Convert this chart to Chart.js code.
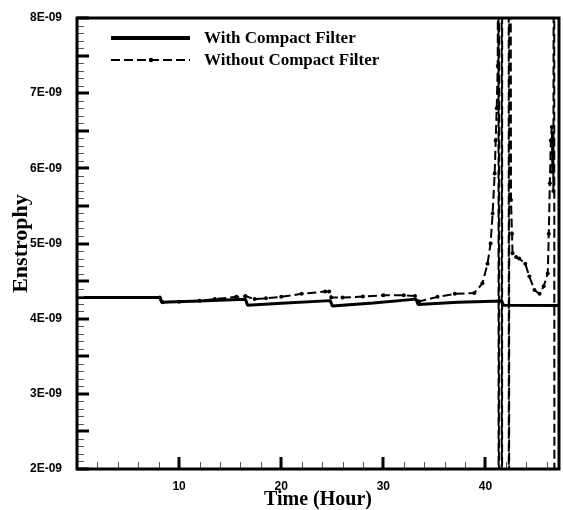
<!DOCTYPE html>
<html><head><meta charset="utf-8">
<script src="https://cdn.jsdelivr.net/npm/chart.js@4"></script>
<style>html,body{margin:0;padding:0;background:#fff}#wrap{width:563px;height:510px;position:relative}</style>
</head><body><div id="wrap"><canvas id="c"></canvas></div>
<script>
// Values in units of 1E-09
const seriesNames = ['With Compact Filter', 'Without Compact Filter'];
const withTime  = [0, 8.1, 8.3, 12, 16.5, 16.7, 20, 24.8, 25.0, 29, 33.2, 33.4, 37.3, 41.6, 41.75, 47.2];
const withValue = [4.283, 4.283, 4.217, 4.235, 4.257, 4.18, 4.205, 4.24, 4.17, 4.21, 4.26, 4.19, 4.22, 4.235, 4.18, 4.175];
const withoutTime  = [0, 8.1, 8.4, 10, 12, 13.5, 15.6, 16.5, 17.4, 18.5, 20, 22, 24.3, 24.7, 24.9, 26, 28, 30, 32, 33.1, 33.5, 35.3, 37, 38.9, 39.7, 40.2, 40.5, 40.7, 40.9, 41.0, 41.1, 41.2,
  41.27, 41.29, 41.31, 41.33, 41.58, 41.60, 41.62, 41.64, 42.27, 42.29, 42.31, 42.33, 42.42,
  42.5, 42.6, 42.65, 43.0, 43.3, 43.9, 44.3, 44.8, 45.3, 45.7, 46.1, 46.2, 46.3, 46.4, 46.5, 46.55, 46.6, 46.65, 46.72, 46.76, 47.2];
const withoutValue = [4.283, 4.283, 4.22, 4.225, 4.24, 4.26, 4.29, 4.30, 4.26, 4.27, 4.29, 4.33, 4.36, 4.36, 4.28, 4.28, 4.295, 4.31, 4.31, 4.30, 4.23, 4.29, 4.33, 4.34, 4.47, 4.73, 5.0, 5.40, 5.93, 6.37, 6.8, 7.36,
  14, -4, -4, 14, 14, -4, -4, 14, 14, -4, -4, 14, 14,
  5.58, 5.13, 4.87, 4.82, 4.80, 4.73, 4.56, 4.38, 4.33, 4.43, 4.60, 5.13, 5.80, 6.37, 6.55, 5.95, 6.35, 5.7, 14, -4, -4];
const xTickValues = [10, 20, 30, 40];
const xTickLabels = ['10', '20', '30', '40'];
const yTickValues = [2, 3, 4, 5, 6, 7, 8];
const yTickLabels = ['2E-09', '3E-09', '4E-09', '5E-09', '6E-09', '7E-09', '8E-09'];
const xTitle = 'Time (Hour)';
const yTitle = 'Enstrophy';

const X_MIN = 0, X_MAX = 47.2, Y_MIN = 2, Y_MAX = 8;
const serif = "'Liberation Serif', 'Times New Roman', serif";
const sans = "'Liberation Sans', Arial, sans-serif";

const framePlugin = {
  id: 'frameTicks',
  afterDatasetsDraw(chart) {
    const ctx = chart.ctx, a = chart.chartArea;
    const xs = chart.scales.x, ys = chart.scales.y;
    ctx.save();
    for (let k = 0; k <= 60; k++) {
      const v = Y_MIN + k * 0.1;
      const py = ys.getPixelForValue(v);
      const major = k % 5 === 0;
      ctx.strokeStyle = major ? '#000' : '#555';
      ctx.lineWidth = major ? 3 : 1;
      ctx.beginPath();
      ctx.moveTo(a.left, Math.round(py) + (major ? 0 : 0.5));
      ctx.lineTo(a.left + (major ? 12 : 7), Math.round(py) + (major ? 0 : 0.5));
      ctx.stroke();
    }
    for (let v = 2; v < X_MAX; v += 2) {
      const px = xs.getPixelForValue(v);
      const major = v % 10 === 0;
      ctx.strokeStyle = major ? '#000' : '#555';
      ctx.lineWidth = major ? 3 : 1;
      ctx.beginPath();
      ctx.moveTo(Math.round(px) + (major ? 0 : 0.5), a.bottom);
      ctx.lineTo(Math.round(px) + (major ? 0 : 0.5), a.bottom - (major ? 12 : 7));
      ctx.stroke();
    }
    ctx.strokeStyle = '#000';
    ctx.lineWidth = 3;
    ctx.strokeRect(a.left, a.top, a.right - a.left, a.bottom - a.top);
    const rows = [38, 60];
    chart.data.datasets.forEach((ds, i) => {
      const y = rows[i];
      ctx.strokeStyle = ds.borderColor;
      ctx.lineWidth = i === 0 ? 4 : ds.borderWidth;
      ctx.setLineDash(ds.borderDash || []);
      ctx.beginPath();
      ctx.moveTo(111, y);
      ctx.lineTo(190, y);
      ctx.stroke();
      ctx.setLineDash([]);
      if (ds.pointRadius > 0) {
        ctx.fillStyle = ds.pointBackgroundColor;
        ctx.beginPath();
        ctx.arc(151, y, 2.2, 0, Math.PI * 2);
        ctx.fill();
      }
      ctx.fillStyle = '#000';
      ctx.font = 'bold 17px ' + serif;
      ctx.textBaseline = 'middle';
      ctx.textAlign = 'left';
      ctx.fillText(ds.label, 204, y + 1);
    });
    ctx.restore();
  }
};

new Chart(document.getElementById('c'), {
  type: 'line',
  data: {
    datasets: [
      {
        label: seriesNames[0],
        data: withTime.map((t, i) => ({ x: t, y: withValue[i] })),
        borderColor: '#000', borderWidth: 3, pointRadius: 0, tension: 0,
        borderJoinStyle: 'bevel', clip: 0
      },
      {
        label: seriesNames[1],
        data: withoutTime.map((t, i) => ({ x: t, y: withoutValue[i] })),
        borderColor: '#000', borderWidth: 2, borderDash: [9, 4],
        pointRadius: 2, pointBackgroundColor: '#000', pointBorderWidth: 0,
        tension: 0, borderJoinStyle: 'bevel', clip: 0
      }
    ]
  },
  options: {
    responsive: true, maintainAspectRatio: false, animation: false,
    layout: { padding: { top: 18, right: 1, left: 0, bottom: 0 } },
    plugins: { legend: { display: false }, tooltip: { enabled: false } },
    scales: {
      x: {
        type: 'linear', min: X_MIN, max: X_MAX,
        afterBuildTicks: s => { s.ticks = xTickValues.map(v => ({ value: v })); },
        ticks: {
          callback: v => xTickLabels[xTickValues.indexOf(v)],
          font: { family: sans, size: 12, weight: 'bold' }, color: '#000',
          padding: 2, maxRotation: 0, autoSkip: false
        },
        grid: { display: false }, border: { display: false },
        title: { display: true, text: xTitle, color: '#000',
          font: { family: serif, size: 20, weight: 'bold', lineHeight: 1 }, padding: { top: 0, bottom: 0 } },
        afterFit: s => { s.height = 41; }
      },
      y: {
        type: 'linear', min: Y_MIN, max: Y_MAX,
        afterBuildTicks: s => { s.ticks = yTickValues.map(v => ({ value: v })); },
        ticks: {
          callback: v => yTickLabels[yTickValues.indexOf(v)],
          font: { family: sans, size: 12, weight: 'bold' }, color: '#000',
          padding: 7, autoSkip: false
        },
        grid: { display: false }, border: { display: false },
        title: { display: true, text: yTitle, color: '#000',
          font: { family: serif, size: 22, weight: 'bold', lineHeight: 1.2 }, padding: { top: 8, bottom: 0 } },
        afterFit: s => { s.width = 77; }
      }
    }
  },
  plugins: [framePlugin]
});
</script>
</body></html>
